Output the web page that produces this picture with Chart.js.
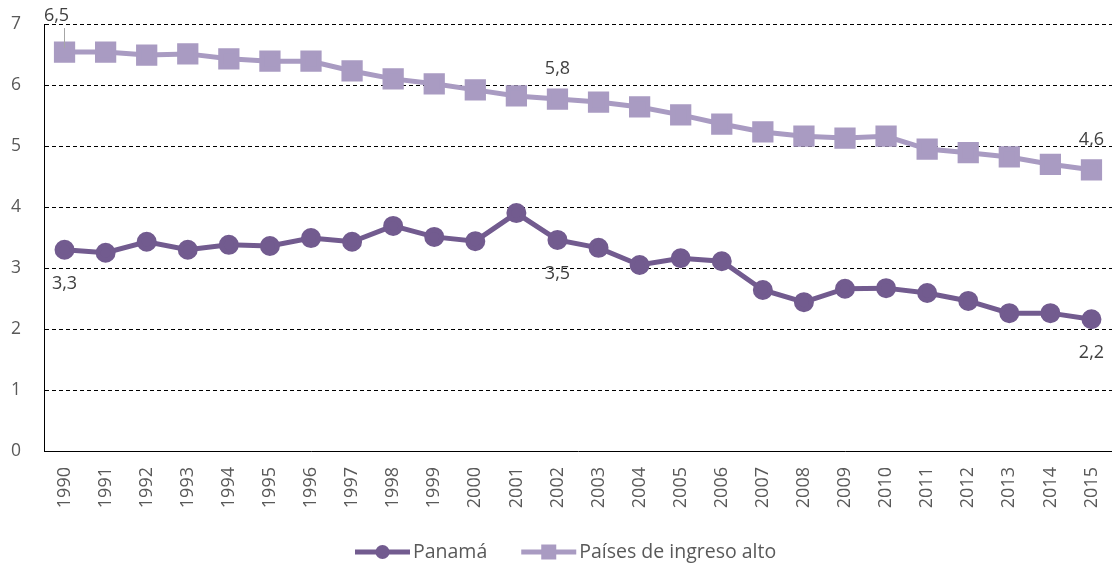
<!DOCTYPE html>
<html>
<head>
<meta charset="utf-8">
<script src="https://cdn.jsdelivr.net/npm/chart.js@4.4.1/dist/chart.umd.min.js"></script>
<style>
  html, body { margin: 0; padding: 0; background: #fff; }
  #wrap { width: 1112px; height: 567px; }
</style>
</head>
<body>
<div id="wrap"><canvas id="myChart"></canvas></div>
<script>
// Años del eje X
const years = ["1990","1991","1992","1993","1994","1995","1996","1997","1998","1999","2000","2001","2002",
  "2003","2004","2005","2006","2007","2008","2009","2010","2011","2012","2013","2014","2015"];

// Serie Panamá
const panama = [3.30, 3.25, 3.43, 3.30, 3.38, 3.36, 3.49, 3.43, 3.69, 3.51, 3.44, 3.90, 3.46,
  3.33, 3.05, 3.16, 3.11, 2.64, 2.44, 2.66, 2.67, 2.59, 2.46, 2.26, 2.26, 2.16];

// Serie Países de ingreso alto
const ingresoAlto = [6.54, 6.54, 6.49, 6.51, 6.43, 6.39, 6.39, 6.23, 6.10, 6.02, 5.92, 5.82, 5.77,
  5.72, 5.64, 5.51, 5.36, 5.23, 5.16, 5.13, 5.16, 4.95, 4.89, 4.82, 4.70, 4.61];

const yTicks = [0, 1, 2, 3, 4, 5, 6, 7];

// Etiquetas de valor: índice del año y posición (arriba / abajo)
const etiquetasPanama = [{ i: 0, pos: "below" }, { i: 12, pos: "below" }, { i: 25, pos: "below" }];
const etiquetasAlto = [{ i: 0, pos: "above", guia: true }, { i: 12, pos: "above" }, { i: 25, pos: "above" }];

const colorPanama = "#725b8f";
const colorAlto = "#a99bc2";
const colorTexto = "#595959";
const fuente = "'Open Sans', 'Noto Sans', sans-serif";

const fmt = v => v.toFixed(1).replace(".", ",");

// Dibuja las etiquetas de datos
const etiquetasPlugin = {
  id: "etiquetas",
  afterDatasetsDraw(chart) {
    const ctx = chart.ctx;
    ctx.save();
    ctx.font = "18px " + fuente;
    ctx.fillStyle = "#404040";
    ctx.textAlign = "center";
    ctx.textBaseline = "middle";
    const grupos = [[0, etiquetasPanama], [1, etiquetasAlto]];
    grupos.forEach(([ds, lista]) => {
      const meta = chart.getDatasetMeta(ds);
      const datos = chart.data.datasets[ds].data;
      lista.forEach(e => {
        const p = meta.data[e.i];
        let x = p.x, y;
        if (e.pos === "above") {
          y = p.y - 30;
          if (e.guia) {
            y = p.y - 36;
            x = p.x - 8;
            ctx.strokeStyle = "#a6a6a6";
            ctx.lineWidth = 1;
            ctx.beginPath();
            ctx.moveTo(Math.round(p.x) - 0.5, y + 12);
            ctx.lineTo(Math.round(p.x) - 0.5, p.y - 4);
            ctx.stroke();
          }
        } else {
          y = p.y + 34;
        }
        ctx.fillText(fmt(datos[e.i]), x, y);
      });
    });
    ctx.restore();
  }
};

// Leyenda al pie, con línea y marcador
const leyendaPlugin = {
  id: "leyenda",
  afterDraw(chart) {
    const ctx = chart.ctx;
    ctx.save();
    ctx.font = "19.5px " + fuente;
    ctx.textBaseline = "middle";
    const y = 552;
    let x = 355;
    chart.data.datasets.forEach(ds => {
      ctx.strokeStyle = ds.borderColor;
      ctx.lineWidth = 5;
      ctx.beginPath();
      ctx.moveTo(x, y);
      ctx.lineTo(x + 55, y);
      ctx.stroke();
      ctx.fillStyle = ds.borderColor;
      if (ds.pointStyle === "rect") {
        ctx.fillRect(x + 27.5 - 7.5, y - 7.5, 15, 15);
      } else {
        ctx.beginPath();
        ctx.arc(x + 27.5, y, 7, 0, Math.PI * 2);
        ctx.fill();
      }
      ctx.fillStyle = colorTexto;
      ctx.textAlign = "left";
      ctx.fillText(ds.label, x + 58, y);
      x += 58 + ctx.measureText(ds.label).width + 34;
    });
    ctx.restore();
  }
};

const ctx = document.getElementById("myChart");
const myChart = new Chart(ctx, {
  type: "line",
  data: {
    labels: years,
    datasets: [
      {
        label: "Panamá",
        data: panama,
        borderColor: colorPanama,
        backgroundColor: colorPanama,
        borderWidth: 5,
        pointStyle: "circle",
        pointRadius: 7.5,
        pointHoverRadius: 7.5,
        tension: 0
      },
      {
        label: "Países de ingreso alto",
        data: ingresoAlto,
        borderColor: colorAlto,
        backgroundColor: colorAlto,
        borderWidth: 5,
        pointStyle: "rect",
        pointRadius: 11.5,
        pointHoverRadius: 11.5,
        tension: 0
      }
    ]
  },
  options: {
    responsive: true,
    maintainAspectRatio: false,
    animation: false,
    layout: { autoPadding: false, padding: { top: 24, right: -4, bottom: 46, left: 0 } },
    plugins: {
      legend: { display: false },
      tooltip: { enabled: false }
    },
    scales: {
      x: {
        offset: true,
        grid: { display: false, drawTicks: false },
        border: { display: true, color: "#000", width: 1 },
        ticks: {
          color: colorTexto,
          font: { size: 18, family: fuente },
          minRotation: 90,
          maxRotation: 90,
          padding: 16,
          autoSkip: false
        },
        afterFit(scale) {
          scale.height = 70;
          scale.paddingLeft = 0;
          scale.paddingRight = 0;
        }
      },
      y: {
        min: 0,
        max: 7,
        afterBuildTicks(scale) { scale.ticks = yTicks.map(v => ({ value: v })); },
        grid: {
          drawTicks: false,
          color: ctx => ctx.tick && ctx.tick.value === 0 ? "rgba(0,0,0,0)" : "#000",
          lineWidth: 1
        },
        border: { display: true, color: "#000", width: 1, dash: [4, 3] },
        ticks: {
          color: colorTexto,
          font: { size: 17.5, family: fuente },
          padding: 23
        },
        afterFit(scale) {
          scale.width = 44;
          scale.paddingTop = 0;
          scale.paddingBottom = 0;
        }
      }
    }
  },
  plugins: [etiquetasPlugin, leyendaPlugin]
});
</script>
</body>
</html>
